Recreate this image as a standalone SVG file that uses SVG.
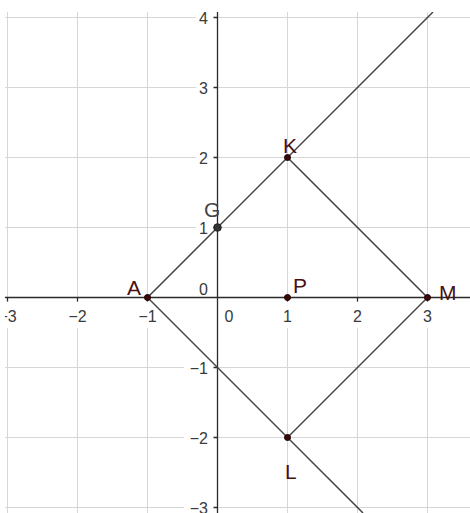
<svg xmlns="http://www.w3.org/2000/svg" width="470" height="513" viewBox="0 0 470 513">
<style>
.grid{stroke:#d6d6d6;stroke-width:1;fill:none}
.axis{stroke:#2b2b2b;stroke-width:1.3;fill:none}
.tick{font-family:"Liberation Sans",Arial,sans-serif;font-size:16px;fill:#3a3a3a}
.bg{fill:#fff}
.seg{stroke:#444;stroke-width:1.5;fill:none}
.pt{fill:#3d0808;stroke:#1a0000;stroke-width:1}
.lbl{font-family:"Liberation Sans",Arial,sans-serif;font-size:21px;fill:#4a1010}
.lblg{font-family:"Liberation Sans",Arial,sans-serif;font-size:21px;fill:#444}
</style>
<defs>
<clipPath id="plot"><rect x="5" y="12" width="465" height="501"/></clipPath>
</defs>
<rect width="470" height="513" fill="#fff"/>
<g clip-path="url(#plot)">
<g id="grid">
<path class="grid" d="M7.5 12V513M77.5 12V513M147.5 12V513M287.5 12V513M357.5 12V513M427.5 12V513M5 17.5H470M5 87.5H470M5 157.5H470M5 227.5H470M5 367.5H470M5 437.5H470M5 507.5H470"/>
</g>
<g id="tick-labels">
<rect class="bg" x="-3" y="302" width="21" height="26"/>
<rect class="bg" x="67" y="302" width="21" height="26"/>
<rect class="bg" x="137" y="302" width="21" height="26"/>
<rect class="bg" x="281" y="302" width="13" height="26"/>
<rect class="bg" x="351" y="302" width="13" height="26"/>
<rect class="bg" x="421" y="302" width="13" height="26"/>
<rect class="bg" x="196" y="8" width="18" height="20"/>
<rect class="bg" x="196" y="78" width="18" height="20"/>
<rect class="bg" x="196" y="148" width="18" height="20"/>
<rect class="bg" x="196" y="218" width="18" height="20"/>
<rect class="bg" x="184" y="358" width="30" height="20"/>
<rect class="bg" x="184" y="428" width="30" height="20"/>
<rect class="bg" x="184" y="498" width="30" height="20"/>
<text class="tick" x="7.5" y="322" text-anchor="middle">−3</text>
<text class="tick" x="77.5" y="322" text-anchor="middle">−2</text>
<text class="tick" x="147.5" y="322" text-anchor="middle">−1</text>
<text class="tick" x="229" y="322" text-anchor="middle">0</text>
<text class="tick" x="287.5" y="322" text-anchor="middle">1</text>
<text class="tick" x="357.5" y="322" text-anchor="middle">2</text>
<text class="tick" x="427.5" y="322" text-anchor="middle">3</text>
<text class="tick" x="208" y="23.5" text-anchor="end">4</text>
<text class="tick" x="208" y="93.5" text-anchor="end">3</text>
<text class="tick" x="208" y="163.5" text-anchor="end">2</text>
<text class="tick" x="208" y="233.5" text-anchor="end">1</text>
<text class="tick" x="208" y="295" text-anchor="end">0</text>
<text class="tick" x="208" y="373.5" text-anchor="end">−1</text>
<text class="tick" x="208" y="443.5" text-anchor="end">−2</text>
<text class="tick" x="208" y="513.5" text-anchor="end">−3</text>
</g>
<g id="axes">
<path class="axis" d="M5 297.5H470M217.5 12V513"/>
<path class="axis" stroke-width="1" d="M7.5 297.5v4M77.5 297.5v4M147.5 297.5v4M287.5 297.5v4M357.5 297.5v4M427.5 297.5v4M213.5 17.5h4M213.5 87.5h4M213.5 157.5h4M213.5 227.5h4M213.5 367.5h4M213.5 437.5h4M213.5 507.5h4"/>
</g>
<g id="connectors">
<line class="seg" x1="147.5" y1="297.5" x2="433" y2="12"/>
<line class="seg" x1="147.5" y1="297.5" x2="363" y2="513"/>
<line class="seg" x1="287.5" y1="157.5" x2="427.5" y2="297.5"/>
<line class="seg" x1="427.5" y1="297.5" x2="287.5" y2="437.5"/>
</g>
</g>
<g id="point-A"><circle class="pt" cx="147.5" cy="297.5" r="3"/><text class="lbl" x="127" y="295">A</text></g>
<g id="point-G"><circle cx="217.5" cy="227.5" r="3.8" fill="#333" stroke="#222" stroke-width="1"/><text class="lblg" x="204" y="217">G</text></g>
<g id="point-K"><circle class="pt" cx="287.5" cy="157.5" r="3"/><text class="lbl" x="283" y="153">K</text></g>
<g id="point-P"><circle class="pt" cx="287.5" cy="297.5" r="3"/><text class="lbl" x="293" y="293">P</text></g>
<g id="point-M"><circle class="pt" cx="427.5" cy="297.5" r="3"/><text class="lbl" x="439" y="300">M</text></g>
<g id="point-L"><circle class="pt" cx="287.5" cy="437.5" r="3"/><text class="lbl" x="285" y="479">L</text></g>
</svg>
